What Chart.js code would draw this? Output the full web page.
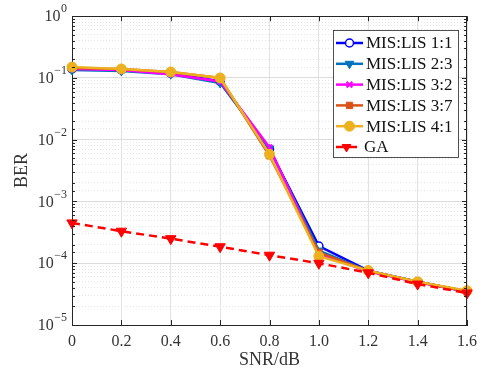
<!DOCTYPE html>
<html>
<head>
<meta charset="utf-8">
<script src="https://cdn.jsdelivr.net/npm/chart.js@4/dist/chart.umd.min.js"></script>
<style>
html, body { margin: 0; padding: 0; background: #fff; }
#wrap { width: 484px; height: 371px; position: relative; }
</style>
</head>
<body>
<div id="wrap"><canvas id="berChart"></canvas></div>
<script>
// data
const snr = [0, 0.2, 0.4, 0.6, 0.8, 1.0, 1.2, 1.4, 1.6];
const xTickLabels = ['0', '0.2', '0.4', '0.6', '0.8', '1.0', '1.2', '1.4', '1.6'];
const seriesNames = ['MIS:LIS 1:1', 'MIS:LIS 2:3', 'MIS:LIS 3:2', 'MIS:LIS 3:7', 'MIS:LIS 4:1', 'GA'];
const ber11 = [0.14, 0.135, 0.12, 0.088, 0.0070, 1.9e-4, 7.6e-5, 5.0e-5, 3.5e-5];
const ber23 = [0.135, 0.13, 0.115, 0.083, 0.0072, 1.6e-4, 7.5e-5, 5.0e-5, 3.5e-5];
const ber32 = [0.14, 0.135, 0.115, 0.088, 0.0075, 1.4e-4, 7.4e-5, 4.9e-5, 3.5e-5];
const ber37 = [0.145, 0.14, 0.125, 0.1, 0.0055, 1.5e-4, 7.5e-5, 5.0e-5, 3.5e-5];
const ber41 = [0.15, 0.14, 0.125, 0.1, 0.0058, 1.3e-4, 7.6e-5, 5.0e-5, 3.6e-5];
const berGA = [4.5e-4, 3.3e-4, 2.5e-4, 1.85e-4, 1.35e-4, 1.0e-4, 7.0e-5, 4.6e-5, 3.3e-5];
const yTickExp = [-5, -4, -3, -2, -1, 0];

function isDecade(v) {
    const l = Math.log10(v);
    return Math.abs(l - Math.round(l)) < 1e-6;
}
function toPoints(vals) {
    return snr.map((x, i) => ({ x: x, y: vals[i] }));
}

const serifFont = "'Liberation Serif', 'Times New Roman', serif";

const datasets = [
    { label: seriesNames[0], data: toPoints(ber11), borderColor: '#0000ff', backgroundColor: '#ffffff',
      pointStyle: 'circle', pointRadius: 4, pointBorderWidth: 1.5, order: 5 },
    { label: seriesNames[1], data: toPoints(ber23), borderColor: '#0072bd', backgroundColor: '#0072bd',
      pointStyle: 'triangle', rotation: 180, pointRadius: 5, pointBorderWidth: 1, order: 4 },
    { label: seriesNames[2], data: toPoints(ber32), borderColor: '#ff00ff', backgroundColor: '#ff00ff',
      pointStyle: 'crossRot', pointRadius: 4, pointBorderWidth: 2, order: 3 },
    { label: seriesNames[3], data: toPoints(ber37), borderColor: '#d95319', backgroundColor: '#d95319',
      pointStyle: 'rect', pointRadius: 4.5, pointBorderWidth: 1, order: 2 },
    { label: seriesNames[4], data: toPoints(ber41), borderColor: '#edb120', backgroundColor: '#edb120',
      pointStyle: 'circle', pointRadius: 5, pointBorderWidth: 1, order: 1 },
    { label: seriesNames[5], data: toPoints(berGA), borderColor: '#ff0000', backgroundColor: '#ff0000',
      pointStyle: 'triangle', rotation: 180, pointRadius: 6, pointBorderWidth: 1, borderDash: [8, 5], order: 0 }
];
datasets.forEach(d => {
    d.borderWidth = 2.5;
    d.fill = false;
    d.tension = 0;
    d.clip = false;
    d.pointBackgroundColor = d.backgroundColor;
    d.pointBorderColor = d.borderColor;
});

// box, inward ticks and 10^n labels
const framePlugin = {
    id: 'frame',
    afterDatasetsDraw(chart) {
        const ctx = chart.ctx;
        const a = chart.chartArea;
        const xs = chart.scales.x, ys = chart.scales.y;
        ctx.save();
        ctx.strokeStyle = '#262626';
        ctx.lineWidth = 1;
        ctx.beginPath();
        ys.ticks.forEach(t => {
            const y = Math.round(ys.getPixelForValue(t.value)) + 0.5;
            const len = isDecade(t.value) ? 5 : 3;
            ctx.moveTo(a.left, y); ctx.lineTo(a.left + len, y);
            ctx.moveTo(a.right, y); ctx.lineTo(a.right - len, y);
        });
        xs.ticks.forEach(t => {
            const x = Math.round(xs.getPixelForValue(t.value)) + 0.5;
            ctx.moveTo(x, a.bottom); ctx.lineTo(x, a.bottom - 5);
            ctx.moveTo(x, a.top); ctx.lineTo(x, a.top + 5);
        });
        ctx.stroke();
        ctx.beginPath();
        ctx.moveTo(a.left, Math.round(a.top) + 0.5);
        ctx.lineTo(a.right, Math.round(a.top) + 0.5);
        ctx.moveTo(Math.round(a.right) - 0.5, a.top);
        ctx.lineTo(Math.round(a.right) - 0.5, a.bottom);
        ctx.stroke();

        // y labels as 10 with raised exponent
        ctx.fillStyle = '#333';
        ctx.textBaseline = 'middle';
        ctx.textAlign = 'left';
        yTickExp.forEach(e => {
            const y = ys.getPixelForValue(Math.pow(10, e));
            const expText = (e < 0 ? '\u2212' : '') + Math.abs(e);
            ctx.font = '12px ' + serifFont;
            const ew = ctx.measureText(expText).width;
            ctx.font = '16px ' + serifFont;
            const bw = ctx.measureText('10').width;
            const right = a.left - 5;
            ctx.fillText('10', right - ew - bw - 0.5, y + 1);
            ctx.font = '12px ' + serifFont;
            ctx.fillText(expText, right - ew, y - 7);
        });
        ctx.restore();
    }
};

// matlab style legend: line sample with marker
const legendPlugin = {
    id: 'lineLegend',
    afterDraw(chart) {
        const ctx = chart.ctx;
        const bx = 333, by = 30, bw = 125, bh = 127, rowH = 20.8;
        ctx.save();
        ctx.fillStyle = '#ffffff';
        ctx.fillRect(bx, by, bw, bh);
        ctx.strokeStyle = '#262626';
        ctx.lineWidth = 0.8;
        ctx.strokeRect(bx + 0.5, by + 0.5, bw, bh);
        chart.data.datasets.forEach((d, i) => {
            const y = by + 13 + i * rowH;
            const isGA = i === 5;
            const x1 = bx + 3, x2 = isGA ? bx + 24 : bx + 30;
            ctx.strokeStyle = d.borderColor;
            ctx.lineWidth = d.borderWidth;
            ctx.setLineDash(d.borderDash || []);
            ctx.beginPath();
            ctx.moveTo(x1, y); ctx.lineTo(x2, y);
            ctx.stroke();
            ctx.setLineDash([]);
            ctx.fillStyle = d.pointBackgroundColor;
            ctx.strokeStyle = d.pointBorderColor;
            ctx.lineWidth = d.pointBorderWidth;
            Chart.helpers.drawPoint(ctx, {
                pointStyle: d.pointStyle, rotation: d.rotation || 0,
                radius: isGA ? 5 : d.pointRadius, borderWidth: d.pointBorderWidth
            }, (x1 + x2) / 2, y);
            ctx.fillStyle = '#111';
            ctx.font = '17px ' + serifFont;
            ctx.textBaseline = 'middle';
            ctx.textAlign = 'left';
            ctx.fillText(d.label, isGA ? bx + 31 : bx + 33, y + 1);
        });
        ctx.restore();
    }
};

new Chart(document.getElementById('berChart'), {
    type: 'line',
    data: { datasets: datasets },
    options: {
        responsive: true,
        maintainAspectRatio: false,
        animation: false,
        layout: { padding: { top: 13, right: 13, left: 0, bottom: 0 } },
        plugins: { legend: { display: false }, tooltip: { enabled: false } },
        scales: {
            x: {
                type: 'linear',
                min: 0, max: 1.6,
                afterFit: s => { s.height = 46; },
                ticks: {
                    stepSize: 0.2,
                    padding: 7,
                    color: '#333',
                    font: { family: serifFont, size: 16 },
                    callback: (v, i) => xTickLabels[i]
                },
                grid: { color: '#e2e2e2', lineWidth: 1, drawTicks: false },
                border: { color: '#262626', width: 1 },
                title: { display: true, text: 'SNR/dB', color: '#333',
                    font: { family: serifFont, size: 18 }, padding: { top: 0, bottom: 0 } }
            },
            y: {
                type: 'logarithmic',
                min: Math.pow(10, yTickExp[0]),
                max: Math.pow(10, yTickExp[yTickExp.length - 1]),
                afterFit: s => { s.width = 72; },
                ticks: {
                    autoSkip: false,
                    padding: 9,
                    callback: () => ''
                },
                grid: {
                    drawTicks: false,
                    lineWidth: 1,
                    color: c => (c.tick && isDecade(c.tick.value)) ? '#dcdcdc' : '#e6e6e6'
                },
                border: {
                    color: '#262626', width: 1,
                    dash: c => (c.tick && !isDecade(c.tick.value)) ? [1, 2] : []
                },
                title: { display: true, text: 'BER', color: '#333',
                    font: { family: serifFont, size: 18 }, padding: { top: 11, bottom: 0 } }
            }
        }
    },
    plugins: [framePlugin, legendPlugin]
});
</script>
</body>
</html>
